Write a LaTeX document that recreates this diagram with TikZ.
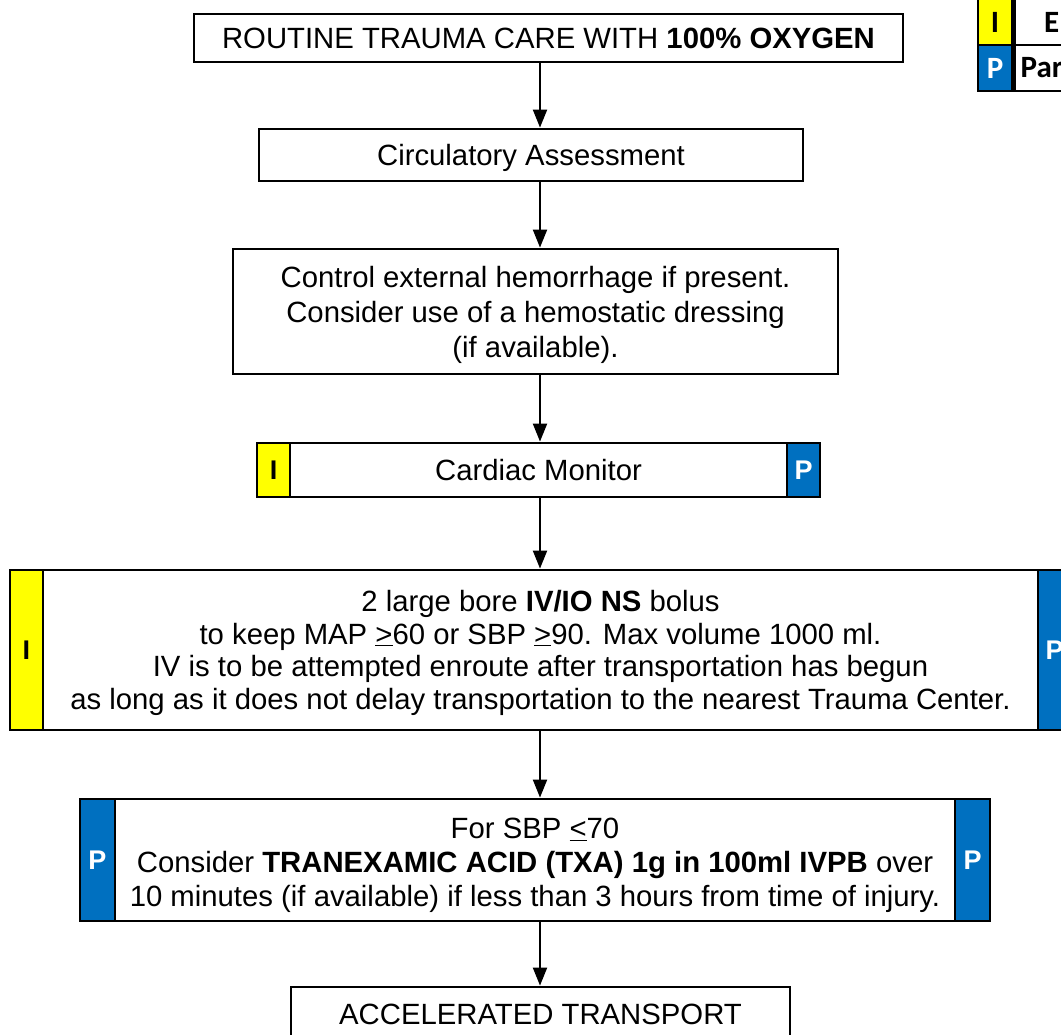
\documentclass[tikz,border=0pt]{standalone}
\usepackage{fontspec}
\setmainfont{Liberation Sans}
\newfontfamily\legendfont{Carlito}
\usetikzlibrary{arrows.meta}

\definecolor{ivyellow}{RGB}{255,255,0}
\definecolor{parablue}{RGB}{0,112,192}
\newcommand{\atleast}{\underline{>}}
\newcommand{\atmost}{\underline{<}}
\newcommand{\topstrut}[1]{\rule{0pt}{#1}}

\begin{document}
\begin{tikzpicture}[x=1pt, y=-1pt,
	main/.style = {draw, line width=2.8pt, inner sep=0pt, align=center, font=\fontsize{29.3}{33}\selectfont},
	ibox/.style = {draw, line width=2.8pt, inner sep=0pt, fill=ivyellow, minimum width=33pt, font=\fontsize{27}{30}\selectfont\bfseries},
	pbox/.style = {ibox, fill=parablue, text=white},
	key/.style = {draw, line width=2.8pt, inner sep=0pt, minimum width=34pt, minimum height=46pt, font=\fontsize{31}{34}\legendfont\bfseries},
	arr/.style = {-{Triangle[length=18pt, width=14pt]}, line width=2pt}]

		\useasboundingbox (0,0) rectangle (1061,1035);

		\node[main, minimum width=709pt, minimum height=48pt] (care) at (548.5,38) {ROUTINE TRAUMA CARE WITH \textbf{100\% OXYGEN}};
		\node[main, minimum width=544pt, minimum height=52pt] (circ) at (531,155) {\topstrut{27pt}Circulatory Assessment};
		\node[main, minimum width=605pt, minimum height=125pt, font=\fontsize{29.3}{35}\selectfont] (bleed) at (535.5,311.5) {\topstrut{29pt}Control external hemorrhage if present.\\ Consider use of a hemostatic dressing\\ (if available).};

		\node[main, minimum width=497pt, minimum height=54pt] (monitor) at (538.5,470) {Cardiac Monitor};
		\node[ibox, minimum height=54pt] (monitorI) at (273.5,470) {I};
		\node[pbox, minimum height=54pt] (monitorP) at (803.5,470) {P};

		\node[main, minimum width=995pt, minimum height=160pt, font=\fontsize{29.3}{32.5}\selectfont] (iv) at (540.5,650) {\topstrut{27pt}2 large bore \textbf{IV/IO NS} bolus\\ to keep MAP \atleast60 or SBP \atleast90. Max volume 1000 ml.\\ IV is to be attempted enroute after transportation has begun\\ as long as it does not delay transportation to the nearest Trauma Center.};
		\node[ibox, minimum height=160pt] (ivI) at (26.5,650) {I};
		\node[pbox, minimum height=160pt] (ivP) at (1054.5,650) {P};

		\node[main, minimum width=840pt, minimum height=122pt, font=\fontsize{29.3}{34}\selectfont] (txa) at (535,860) {\topstrut{31pt}For SBP \atmost70\\ Consider \textbf{TRANEXAMIC ACID (TXA) 1g in 100ml IVPB} over\\ 10 minutes (if available) if less than 3 hours from time of injury.};
		\node[pbox, minimum width=35pt, minimum height=122pt] (txaP1) at (97.5,860) {P};
		\node[pbox, minimum width=35pt, minimum height=122pt] (txaP2) at (972.5,860) {P};

		\node[main, minimum width=499pt, minimum height=58pt] (transport) at (540.5,1016) {\raisebox{3pt}{ACCELERATED TRANSPORT}};

		% legend
		\node[key, fill=ivyellow] (keyI) at (995,22) {I};
		\node[key, fill=parablue, text=white] (keyP) at (995,68) {P};
		\node[key, minimum width=100pt, anchor=west] (keyItext) at (keyI.east) {\hspace*{-26pt}E};
		\node[key, minimum width=100pt, anchor=west] (keyPtext) at (keyP.east) {\hspace*{-46pt}Par};

		\coordinate (axis) at (540,0);
		\draw[arr] (axis |- care.south) -- (axis |- circ.north);
		\draw[arr] (axis |- circ.south) -- (axis |- bleed.north);
		\draw[arr] (axis |- bleed.south) -- (axis |- monitor.north);
		\draw[arr] (axis |- monitor.south) -- (axis |- iv.north);
		\draw[arr] (axis |- iv.south) -- (axis |- txa.north);
		\draw[arr] (axis |- txa.south) -- (axis |- transport.north);
\end{tikzpicture}
\end{document}
